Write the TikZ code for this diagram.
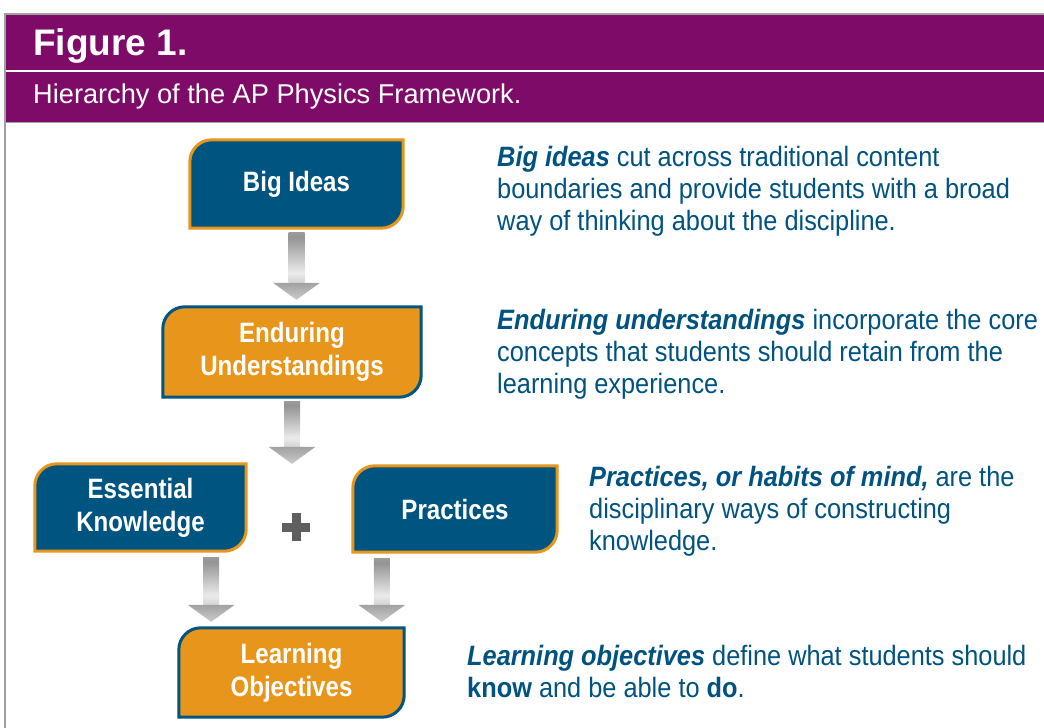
\documentclass[tikz,border=0pt]{standalone}
\usepackage{fontspec}
\setmainfont{Liberation Sans}[FakeStretch=0.905]
\newfontfamily\tabfont{Liberation Sans}[FakeStretch=0.86]
\newfontfamily\headfont{Liberation Sans}
\usetikzlibrary{backgrounds,calc}
\definecolor{framepurple}{RGB}{127,11,104}
\definecolor{tabblue}{RGB}{0,84,128}
\definecolor{taborange}{RGB}{232,149,28}
\definecolor{textblue}{RGB}{0,82,128}
\definecolor{plusgray}{RGB}{95,95,95}
\definecolor{rulegray}{RGB}{160,160,160}

% shadings for the grey down arrows
\pgfdeclareverticalshading{shaft}{100bp}{color(0bp)=(black!40); color(35bp)=(black!8); color(70bp)=(black!42); color(100bp)=(black!25)}
\pgfdeclareverticalshading{head}{100bp}{color(0bp)=(black!12); color(100bp)=(black!45)}

% tab outline: round top left and bottom right corners
\newcommand{\tabshape}[3]{%
  \draw[line width=3pt,draw=#3,fill=#2]
    (#1.south west) -- ([yshift=-22pt]#1.north west)
    arc[start angle=180,end angle=90,radius=22pt]
    -- (#1.north east) -- ([yshift=22pt]#1.south east)
    arc[start angle=0,end angle=-90,radius=22pt] -- cycle;}

% block arrow from #1 down to tip #2
\newcommand{\greyarrow}[2]{%
  \shade[shading=shaft] let \p1=(#1), \p2=(#2) in
    (\x1-8pt,\y1) rectangle (\x1+8pt,\y2+17pt);
  \shade[shading=head] let \p1=(#1), \p2=(#2) in
    (\x1-23.5pt,\y2+17pt) -- (\x1+23.5pt,\y2+17pt) -- (\x1,\y2) -- cycle;}

\begin{document}
\begin{tikzpicture}[x=1pt,y=1pt,
    tab/.style={inner sep=0pt,align=center,text=white,
                font=\tabfont\bfseries\fontsize{28}{33}\selectfont},
    note/.style={anchor=base west,inner sep=0pt,align=left,text=textblue,
                 font=\fontsize{28}{32}\selectfont}
]
\useasboundingbox (0,0) rectangle (1044,-728);

% header band
\fill[framepurple] (5,-14) rectangle (1044,-122);
\draw[white,line width=2.5pt] (5,-71) -- (1044,-71);
\draw[rulegray,line width=1.2pt] (5,-728) -- (5,-14) -- (1044,-14);
\draw[rulegray,line width=0.8pt] (5,-122) -- (1044,-122);
\node[anchor=base west,inner sep=0pt,text=white,
      font=\headfont\bfseries\fontsize{37}{40}\selectfont] (title) at (33,-55) {Figure 1.};
\node[anchor=base west,inner sep=0pt,text=white,
      font=\headfont\fontsize{27.2}{30}\selectfont] (caption) at (33,-103) {Hierarchy of the AP Physics Framework.};

% hierarchy
\node[tab,minimum width=213pt,minimum height=88pt] (big) at (296.5,-184) {Big Ideas};
\node[tab,minimum width=258pt,minimum height=90pt] (endur) at (292,-352) {Enduring\\Understandings};
\node[tab,minimum width=211pt,minimum height=87pt] (essent) at (140.5,-507.5) {Essential\\Knowledge};
\node[tab,minimum width=204pt,minimum height=86pt] (pract) at (455,-509) {Practices};
\node[tab,minimum width=225pt,minimum height=89pt] (learn) at (291.5,-672.5) {Learning\\Objectives};

\begin{scope}[on background layer]
\tabshape{big}{tabblue}{taborange}
\tabshape{endur}{taborange}{tabblue}
\tabshape{essent}{tabblue}{taborange}
\tabshape{pract}{tabblue}{taborange}
\tabshape{learn}{taborange}{tabblue}
\end{scope}

% plus between the two middle tabs
\node[minimum size=28pt,inner sep=0pt] (plus) at (296,-527) {};
\fill[plusgray] ([yshift=-4.5pt]plus.west) rectangle ([yshift=4.5pt]plus.east);
\fill[plusgray] ([xshift=-4.5pt]plus.south) rectangle ([xshift=4.5pt]plus.north);

% arrows
\greyarrow{$(big.south)+(0,-4)$}{$(endur.north)+(0,7)$}
\greyarrow{$(endur.south)+(0,-4)$}{endur.south |- essent.north}
\greyarrow{$(essent.south east)+(-35,-6)$}{$(learn.north)+(0,6)$ -| {$(essent.south east)+(-35,0)$}}
\greyarrow{$(pract.south west)+(29,-6)$}{$(learn.north)+(0,6)$ -| {$(pract.south west)+(29,0)$}}

% descriptions (anchored on the last line)
\node[note] (bigtxt) at (497,-230) {\textbf{\textit{Big ideas}} cut across traditional content\\boundaries and provide students with a broad\\way of thinking about the discipline.};
\node[note] (endurtxt) at (497,-393) {\textbf{\textit{Enduring understandings}} incorporate the core\\concepts that students should retain from the\\learning experience.};
\node[note] (practxt) at (589,-550) {\textbf{\textit{Practices, or habits of mind,}} are the\\disciplinary ways of constructing\\knowledge.};
\node[note] (learntxt) at (467,-697) {\textbf{\textit{Learning objectives}} define what students should\\\textbf{know} and be able to \textbf{do}.};
\end{tikzpicture}
\end{document}
